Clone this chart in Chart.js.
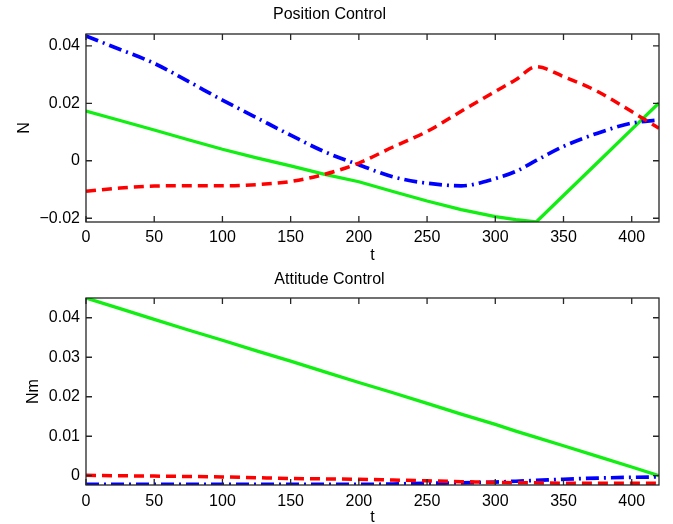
<!DOCTYPE html>
<html>
<head>
<meta charset="utf-8">
<script src="https://cdn.jsdelivr.net/npm/chart.js@4.4.0/dist/chart.umd.min.js"></script>
<style>
  html, body { margin: 0; padding: 0; background: #fff; overflow: hidden; }
  canvas { position: absolute; left: 0; }
</style>
</head>
<body>
<canvas id="posChart" width="673" height="265" style="top:0"></canvas>
<canvas id="attChart" width="673" height="270" style="top:265px"></canvas>
<script>
// time samples
const tVals = [0, 25, 50, 75, 100, 125, 150, 175, 200, 225, 250, 275, 300, 315, 330, 350, 375, 400, 420];

// Position Control (N)
const posRed   = [-0.0106, -0.0095, -0.0088, -0.0087, -0.0087, -0.0083, -0.0072, -0.0047, -0.0008, 0.0048, 0.0102, 0.0172, 0.0241, 0.0282, 0.0327, 0.0293, 0.0241, 0.0171, 0.0113];
const posBlue  = [0.0434, 0.0387, 0.0339, 0.0276, 0.0211, 0.0150, 0.0089, 0.0031, -0.0014, -0.0056, -0.0078, -0.0087, -0.0062, -0.0037, 0.0001, 0.0050, 0.0096, 0.0131, 0.0142];
const posGreen = [0.0173, 0.0140, 0.0107, 0.0073, 0.0040, 0.0010, -0.0018, -0.0047, -0.0073, -0.0107, -0.0140, -0.0170, -0.0194, -0.0205, -0.0213, -0.0121, -0.0006, 0.0109, 0.0201];

// Attitude Control (Nm)
const attRed   = [0.0001, 0.0000, -0.0001, -0.0002, -0.0003, -0.0005, -0.0007, -0.0008, -0.0009, -0.0011, -0.0013, -0.0015, -0.0017, -0.0018, -0.0018, -0.0019, -0.0019, -0.0019, -0.0019];
const attBlue  = [-0.0022, -0.0022, -0.0022, -0.0022, -0.0022, -0.0022, -0.0022, -0.0022, -0.0022, -0.0021, -0.0019, -0.0018, -0.0016, -0.0014, -0.0012, -0.0009, -0.0006, -0.0004, -0.0003];
const attGreen = [0.0450, 0.0423, 0.0396, 0.0369, 0.0343, 0.0316, 0.0290, 0.0263, 0.0236, 0.0210, 0.0183, 0.0156, 0.0130, 0.0113, 0.0097, 0.0076, 0.0049, 0.0022, 0.0000];

Chart.defaults.font.family = "'Liberation Sans', Arial, Helvetica, sans-serif";
Chart.defaults.font.size = 16;
Chart.defaults.color = '#000';

// MATLAB style box with inward ticks on all four sides
const boxTicks = {
  id: 'boxTicks',
  afterDraw(chart) {
    const { ctx, chartArea: a, scales: { x, y } } = chart;
    ctx.save();
    ctx.strokeStyle = '#262626';
    ctx.lineWidth = 1.3;
    ctx.beginPath();
    x.ticks.forEach(t => {
      const px = x.getPixelForValue(t.value);
      ctx.moveTo(px, a.bottom); ctx.lineTo(px, a.bottom - 6);
      ctx.moveTo(px, a.top); ctx.lineTo(px, a.top + 6);
    });
    y.ticks.forEach(t => {
      const py = y.getPixelForValue(t.value);
      ctx.moveTo(a.left, py); ctx.lineTo(a.left + 6, py);
      ctx.moveTo(a.right, py); ctx.lineTo(a.right - 6, py);
    });
    ctx.stroke();
    ctx.strokeRect(a.left, a.top, a.right - a.left, a.bottom - a.top);
    ctx.restore();
  }
};

function points(ys) {
  return tVals.map((t, i) => ({ x: t, y: ys[i] }));
}

function tickLabel(v) {
  return String(+v.toFixed(4)).replace('-', '\u2212');
}

function makeChart(id, cfg) {
  return new Chart(document.getElementById(id), {
    type: 'line',
    data: {
      datasets: [
        { data: points(cfg.red), borderColor: '#ff0000', borderWidth: 3.5, borderDash: [10, 6], cubicInterpolationMode: 'monotone' },
        { data: points(cfg.blue), borderColor: '#0000ff', borderWidth: 3.7, borderDash: [13, 5, 2, 5], cubicInterpolationMode: 'monotone' },
        { data: points(cfg.green), borderColor: '#11ee11', borderWidth: 3.3, tension: 0 }
      ]
    },
    options: {
      responsive: false,
      animation: false,
      elements: { point: { radius: 0 } },
      layout: { padding: { left: 0, right: 14, top: 0, bottom: 0 } },
      plugins: {
        legend: { display: false },
        tooltip: { enabled: false },
        title: {
          display: true,
          text: cfg.title,
          color: '#000',
          font: { size: 16, weight: 'normal' },
          padding: { top: 5.4, bottom: cfg.titleBottom }
        }
      },
      scales: {
        x: {
          type: 'linear',
          min: 0, max: 420,
          grid: { display: false, drawTicks: false },
          border: { display: false },
          ticks: { stepSize: 50, includeBounds: false, padding: cfg.xPad, maxRotation: 0 },
          title: { display: true, text: 't', padding: { top: 0, bottom: cfg.tPad } },
          afterFit(s) { s.height = cfg.xHeight; }
        },
        y: {
          min: cfg.ymin, max: cfg.ymax,
          grid: { display: false, drawTicks: false },
          border: { display: false },
          ticks: { stepSize: cfg.ystep, includeBounds: false, padding: 6, callback: tickLabel },
          title: { display: true, text: cfg.yTitle, padding: { top: cfg.yTitlePad, bottom: 0 } },
          afterFit(s) { s.width = 86; }
        }
      }
    },
    plugins: [boxTicks]
  });
}

const posChart = makeChart('posChart', {
  title: 'Position Control', titleBottom: 9.4,
  yTitle: 'N', yTitlePad: 14.5,
  ymin: -0.0213, ymax: 0.0441, ystep: 0.02,
  xHeight: 43, xPad: 6, tPad: 0,
  red: posRed, blue: posBlue, green: posGreen
});

const attChart = makeChart('attChart', {
  title: 'Attitude Control', titleBottom: 8.4,
  yTitle: 'Nm', yTitlePad: 24,
  ymin: -0.00235, ymax: 0.045, ystep: 0.01,
  xHeight: 50, xPad: 7, tPad: 7.4,
  red: attRed, blue: attBlue, green: attGreen
});
</script>
</body>
</html>
